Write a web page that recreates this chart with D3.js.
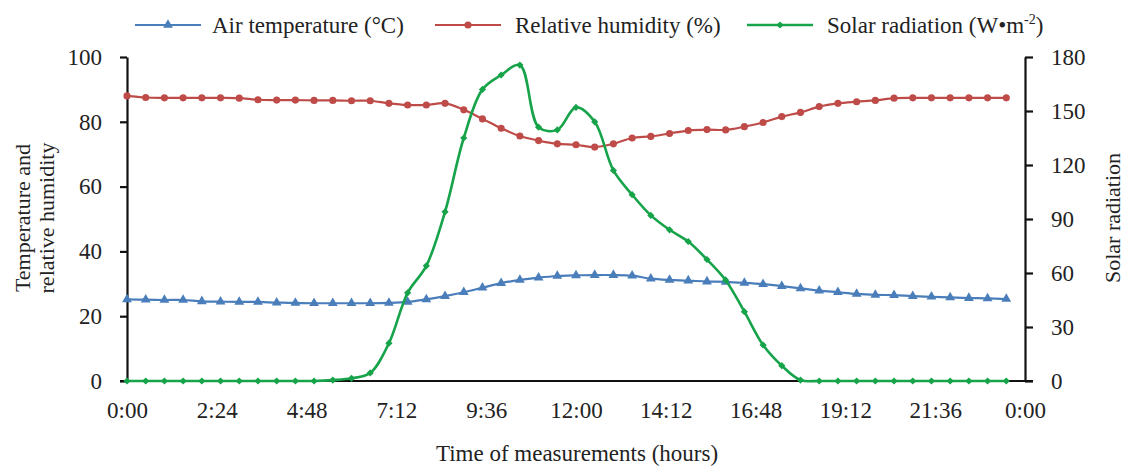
<!DOCTYPE html>
<html>
<head>
<meta charset="utf-8">
<script src="https://cdn.jsdelivr.net/npm/d3@7"></script>
<style>
  body { margin: 0; background: #fff; }
  text { font-family: "Liberation Serif", "Times New Roman", serif; fill: #222; }
</style>
</head>
<body>
<script>
// half-hourly readings, 0:00 .. 23:30
const hours = d3.range(48).map((i) => i / 2);

const airTemp = [
  25.2, 25.1, 25.0, 25.0, 24.6, 24.5, 24.4, 24.4, 24.2, 24.1, 24.0, 24.0,
  24.0, 24.0, 24.1, 24.4, 25.2, 26.2, 27.4, 28.8, 30.2, 31.2, 31.9, 32.4,
  32.6, 32.7, 32.7, 32.5, 31.6, 31.2, 31.0, 30.7, 30.6, 30.3, 29.9, 29.3,
  28.6, 27.9, 27.4, 26.9, 26.6, 26.5, 26.2, 26.0, 25.8, 25.6, 25.5, 25.3,
];

const humidity = [
  88.0, 87.5, 87.4, 87.4, 87.4, 87.4, 87.3, 86.8, 86.7, 86.7, 86.6, 86.6,
  86.5, 86.5, 85.7, 85.2, 85.2, 85.7, 83.7, 80.9, 78.0, 75.6, 74.2, 73.2,
  72.9, 72.2, 73.2, 75.0, 75.5, 76.4, 77.3, 77.6, 77.5, 78.5, 79.8, 81.6,
  82.9, 84.7, 85.7, 86.2, 86.6, 87.3, 87.4, 87.4, 87.4, 87.4, 87.4, 87.4,
];

const solar = [
  0, 0, 0, 0, 0, 0, 0, 0, 0, 0, 0, 0.5,
  1.5, 4.5, 21, 49, 64, 94, 135, 162, 170, 175.5, 141, 139.5,
  152, 144, 117, 103.5, 92, 84, 77.5, 67.5, 56, 38.5, 20, 8.5,
  0.5, 0, 0, 0, 0, 0, 0, 0, 0, 0, 0, 0,
];

const xTicks = [0, 2.4, 4.8, 7.2, 9.6, 12, 14.4, 16.8, 19.2, 21.6, 24];
const xTickLabels = ['0:00', '2:24', '4:48', '7:12', '9:36', '12:00', '14:12', '16:48', '19:12', '21:36', '0:00'];
const leftTicks = [0, 20, 40, 60, 80, 100];
const rightTicks = [0, 30, 60, 90, 120, 150, 180];

const W = 1126, H = 466;
const margin = { top: 57, right: 101, bottom: 85, left: 127 };

const svg = d3.select('body').append('svg')
  .attr('width', W)
  .attr('height', H);

const x = d3.scaleLinear().domain([0, 24]).range([margin.left, W - margin.right]);
const yL = d3.scaleLinear().domain([0, 100]).range([H - margin.bottom, margin.top]);
const yR = d3.scaleLinear().domain([0, 180]).range([H - margin.bottom, margin.top]);

// axes
const bottom = svg.append('g')
  .attr('transform', `translate(0,${H - margin.bottom})`)
  .call(d3.axisBottom(x).tickValues(xTicks).tickSize(0).tickPadding(21)
    .tickFormat((d, i) => xTickLabels[i]));

const left = svg.append('g')
  .attr('transform', `translate(${margin.left},0)`)
  .call(d3.axisLeft(yL).tickValues(leftTicks).tickSize(7).tickPadding(18).tickSizeOuter(0));

const right = svg.append('g')
  .attr('transform', `translate(${W - margin.right},0)`)
  .call(d3.axisRight(yR).tickValues(rightTicks).tickSize(8).tickPadding(18).tickSizeOuter(0));

[left, right, bottom].forEach((g) => {
  g.selectAll('.domain').attr('stroke', '#111').attr('stroke-width', 2.2);
  g.selectAll('.tick line').attr('stroke', '#111').attr('stroke-width', 2.2);
  g.selectAll('.tick text')
    .attr('font-size', 23)
    .attr('font-family', '"Liberation Serif", serif')
    .attr('fill', '#222');
});
// the x-axis line reaches the outer y-axis ticks
bottom.select('.domain').attr('d', `M${margin.left - 7},0H${W - margin.right + 8}`);

// axis titles
svg.append('text')
  .attr('transform', `translate(30,218) rotate(-90)`)
  .attr('text-anchor', 'middle')
  .attr('font-size', 22)
  .text('Temperature and');
svg.append('text')
  .attr('transform', `translate(54,218) rotate(-90)`)
  .attr('text-anchor', 'middle')
  .attr('font-size', 22)
  .text('relative humidity');
svg.append('text')
  .attr('transform', `translate(1120,218) rotate(-90)`)
  .attr('text-anchor', 'middle')
  .attr('font-size', 22)
  .text('Solar radiation');
svg.append('text')
  .attr('x', 577)
  .attr('y', 461)
  .attr('text-anchor', 'middle')
  .attr('font-size', 23)
  .text('Time of measurements (hours)');

const series = [
  { name: 'temp', values: airTemp, y: yL, color: '#4a7ebb', width: 2.2,
    symbol: d3.symbol(d3.symbolTriangle, 42), rotate: 0 },
  { name: 'rh', values: humidity, y: yL, color: '#be4b48', width: 2.2,
    symbol: d3.symbol(d3.symbolCircle, 40), rotate: 0 },
  { name: 'solar', values: solar, y: yR, color: '#16a34a', width: 2.6,
    symbol: d3.symbol(d3.symbolSquare, 26), rotate: 45 },
];

series.forEach((s) => {
  const line = d3.line()
    .x((d, i) => x(hours[i]))
    .y((d) => s.y(d))
    .curve(d3.curveCatmullRom.alpha(0.5));

  svg.append('path')
    .datum(s.values)
    .attr('fill', 'none')
    .attr('stroke', s.color)
    .attr('stroke-width', s.width)
    .attr('d', line);

  svg.append('g').selectAll('path')
    .data(s.values)
    .join('path')
    .attr('d', s.symbol)
    .attr('fill', s.color)
    .attr('transform', (d, i) => `translate(${x(hours[i])},${s.y(d)}) rotate(${s.rotate})`);
});

// legend
const legend = [
  { label: 'Air temperature (°C)', x0: 135, tx: 212 },
  { label: 'Relative humidity (%)', x0: 435, tx: 515 },
  { label: 'Solar radiation (W•m', sup: '-2', tail: ')', x0: 747, tx: 827 },
];
legend.forEach((l, i) => {
  const s = series[i];
  const g = svg.append('g');
  g.append('line')
    .attr('x1', l.x0).attr('x2', l.x0 + 66)
    .attr('y1', 25).attr('y2', 25)
    .attr('stroke', s.color).attr('stroke-width', s.width);
  g.append('path')
    .attr('d', s.symbol)
    .attr('fill', s.color)
    .attr('transform', `translate(${l.x0 + 33},25) rotate(${s.rotate})`);
  const t = g.append('text')
    .attr('x', l.tx)
    .attr('y', 33)
    .attr('font-size', 23);
  t.append('tspan').text(l.label);
  if (l.sup) {
    t.append('tspan').attr('font-size', 14).attr('dy', -9).text(l.sup);
    t.append('tspan').attr('dy', 9).text(l.tail);
  }
});
</script>
</body>
</html>
